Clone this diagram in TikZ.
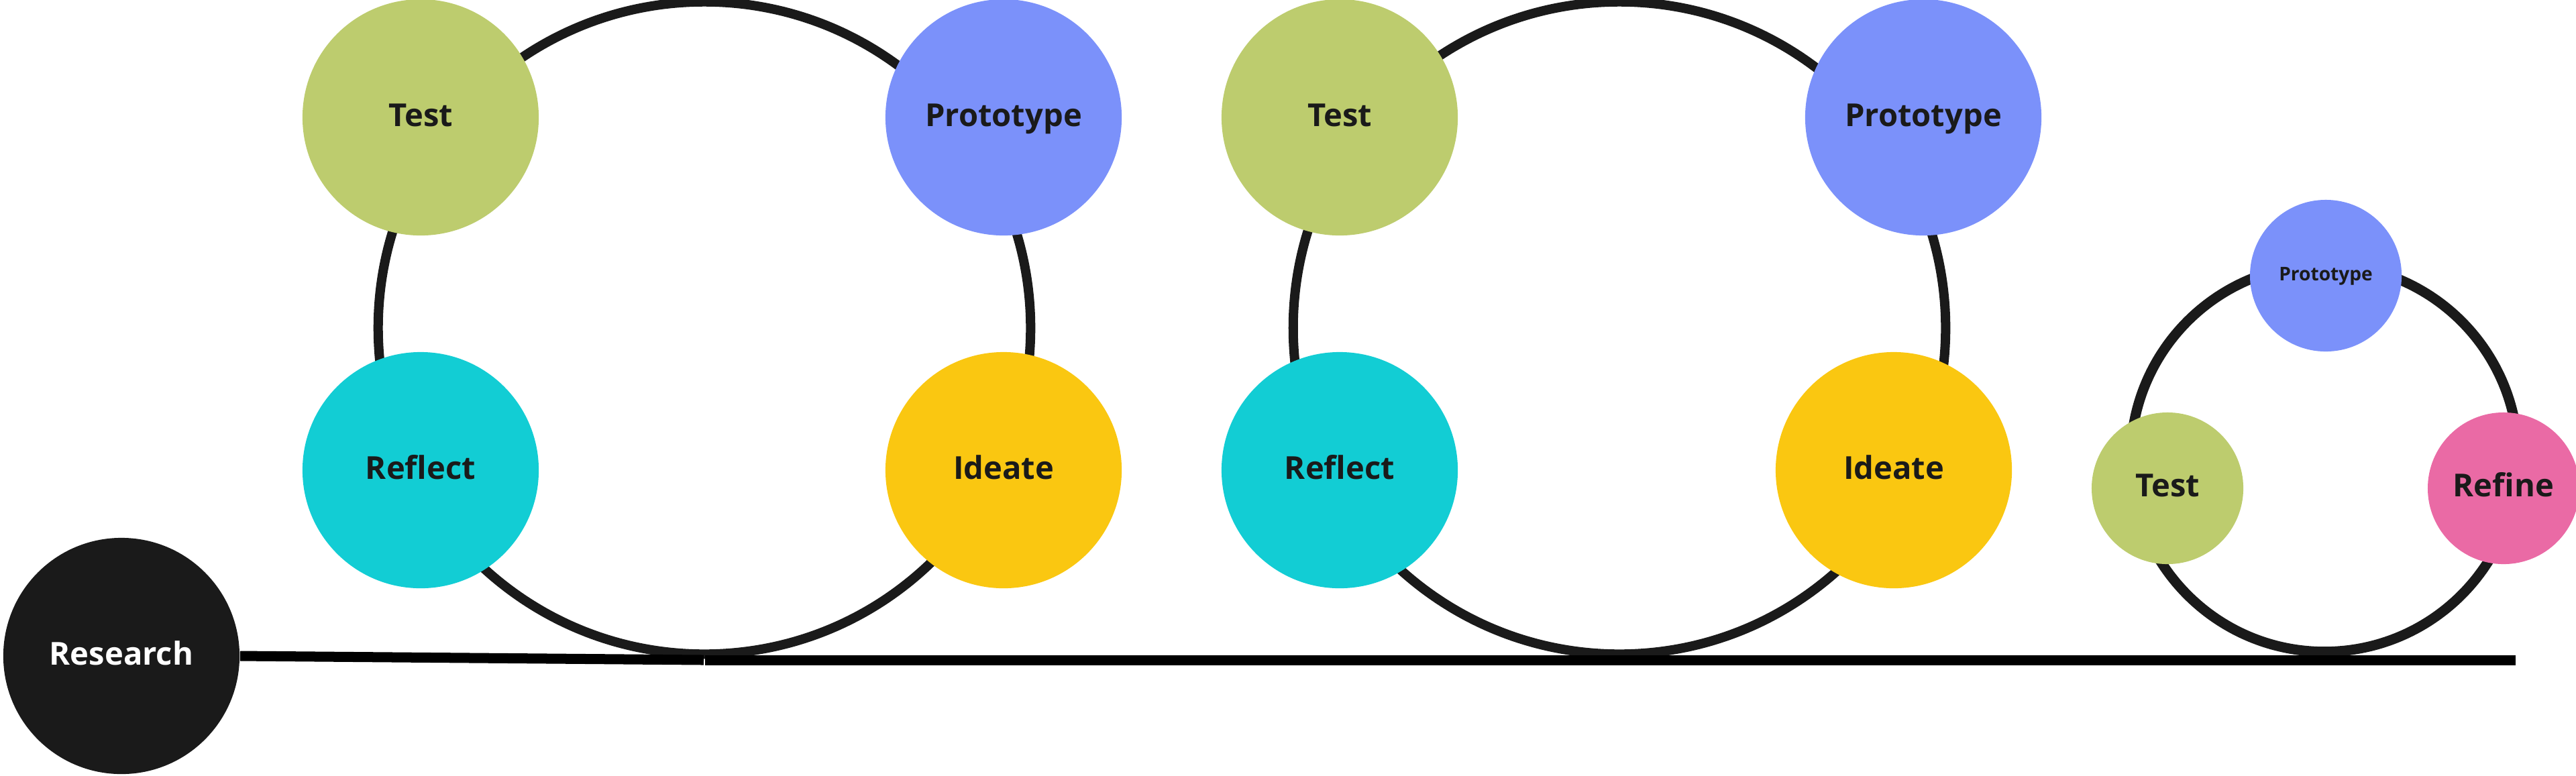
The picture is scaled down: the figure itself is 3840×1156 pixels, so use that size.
\documentclass[tikz,border=0pt]{standalone}
\usepackage{fontspec}
\setmainfont{Open Sans}
\definecolor{dark}{HTML}{1A1A1A}
\definecolor{cgreen}{HTML}{BDCC6E}
\definecolor{cblue}{HTML}{7B91FA}
\definecolor{ccyan}{HTML}{12CDD4}
\definecolor{cyellow}{HTML}{FAC711}
\definecolor{cpink}{HTML}{EA6AA5}
\tikzset{
  ring/.style={circle, draw=dark, line width=0.14cm, inner sep=0pt},
  bigstage/.style={circle, inner sep=0pt, minimum size=3.52cm, text=dark,
    font=\bfseries\fontsize{13.4}{16}\selectfont, text height=0.34cm, text depth=0.08cm},
  smallstage/.style={circle, inner sep=0pt, minimum size=2.26cm, text=dark,
    font=\bfseries\fontsize{13.4}{16}\selectfont, text height=0.33cm, text depth=0.09cm},
  tinytext/.style={font=\bfseries\fontsize{8}{10}\selectfont, text height=0.2cm, text depth=0.06cm},
  timeline/.style={line width=0.15cm, black}
}
\begin{document}
\begin{tikzpicture}[x=0.01cm, y=-0.01cm]
\useasboundingbox (0,0) rectangle (3840,1156);
% rings
\node[ring, minimum size=9.72cm] (ring1) at (1050,489) {};
\node[ring, minimum size=9.72cm] (ring2) at (2414,489) {};
\node[ring, minimum size=5.77cm, line width=0.15cm] (ring3) at (3465,683) {};
% timeline
\node[bigstage, fill=dark, text=white] (research) at (181,978) {Research};
\coordinate (mid) at (1049,984);
\coordinate (midb) at (1051,984);
\coordinate (lineend) at (3750,984);
\draw[timeline] (research.east) -- (mid);
\draw[timeline] (midb) -- (lineend);
% loop 1
\node[bigstage, fill=cgreen] (test1) at (627,175) {Test};
\node[bigstage, fill=cblue] (proto1) at (1496,175) {Prototype};
\node[bigstage, fill=ccyan] (reflect1) at (627,701) {Reflect};
\node[bigstage, fill=cyellow] (ideate1) at (1496,701) {Ideate};
% loop 2
\node[bigstage, fill=cgreen] (test2) at (1997,175) {Test};
\node[bigstage, fill=cblue] (proto2) at (2867,175) {Prototype};
\node[bigstage, fill=ccyan] (reflect2) at (1997,701) {Reflect};
\node[bigstage, fill=cyellow] (ideate2) at (2823,701) {Ideate};
% loop 3
\node[smallstage, fill=cblue, tinytext] (proto3) at (3467,411) {Prototype};
\node[smallstage, fill=cgreen] (test3) at (3231,728) {Test};
\node[smallstage, fill=cpink] (refine3) at (3732,728) {Refine};
\end{tikzpicture}
\end{document}
